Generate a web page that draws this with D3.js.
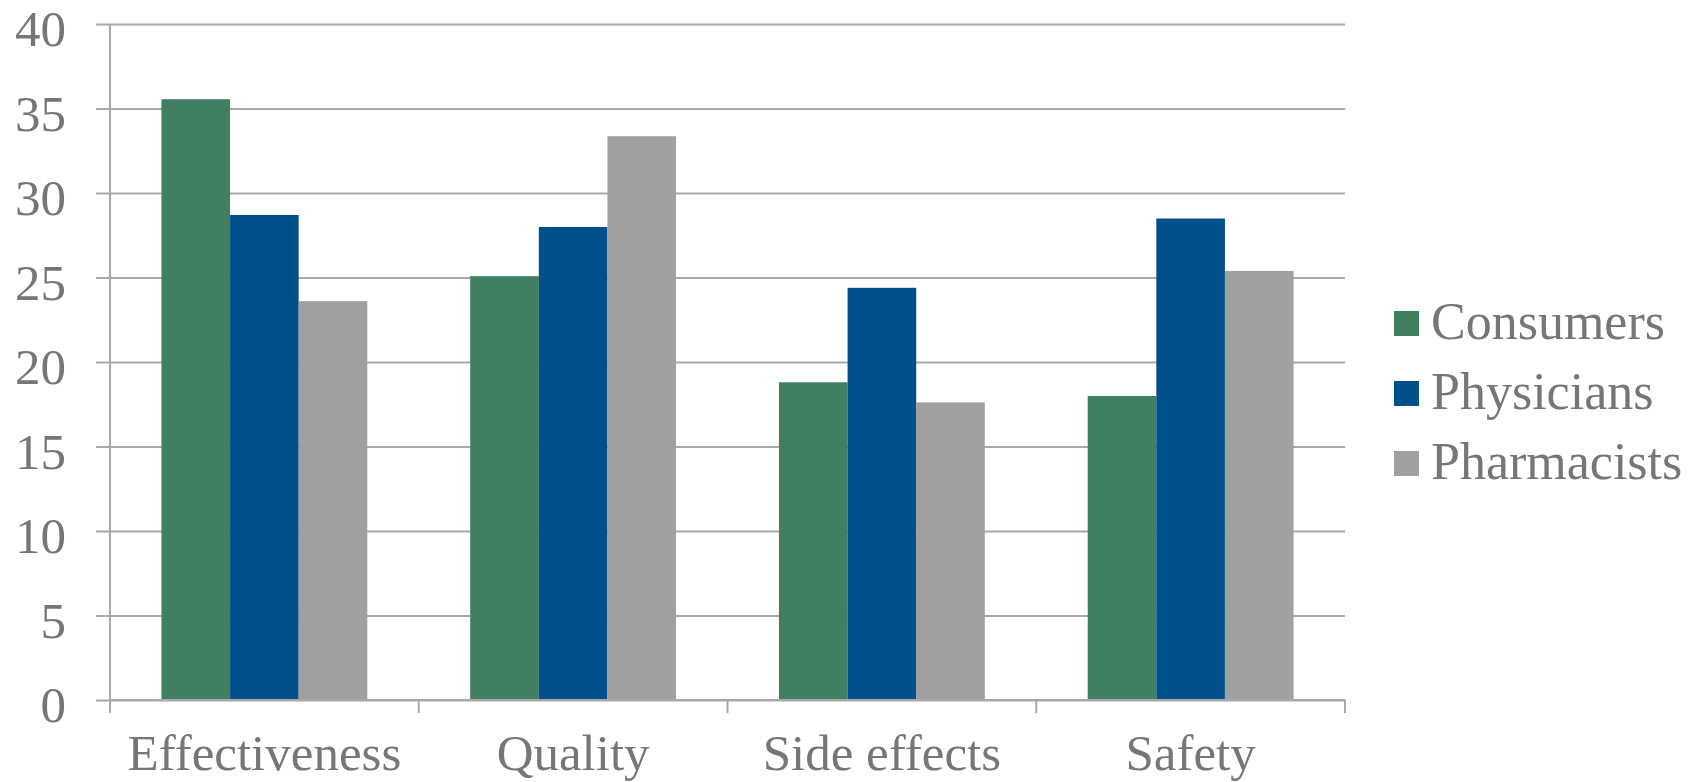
<!DOCTYPE html>
<html>
<head>
<meta charset="utf-8">
<script src="https://cdn.jsdelivr.net/npm/d3@7"></script>
<style>
  html, body { margin: 0; padding: 0; background: #ffffff; }
  svg { display: block; }
  text { font-family: "Liberation Serif", "DejaVu Serif", serif; fill: #767676; }
</style>
</head>
<body>
<svg id="chart" width="1694" height="782"></svg>
<script>
// Reasons cited, by respondent group (percent)
const categories = ["Effectiveness", "Quality", "Side effects", "Safety"];
const seriesNames = ["Consumers", "Physicians", "Pharmacists"];
const consumers   = [35.55, 25.08, 18.80, 17.99];
const physicians  = [28.70, 27.99, 24.39, 28.49];
const pharmacists = [23.60, 33.36, 17.61, 25.39];
const yTicks = [0, 5, 10, 15, 20, 25, 30, 35, 40];
const seriesColors = ["#417f61", "#00508c", "#a0a0a0"];

const seriesValues = [consumers, physicians, pharmacists];

const svg = d3.select("#chart");
const plot = { left: 110, right: 1345, top: 24, bottom: 700 };
const gridColor = "#a8a8a8";
const fontSize = 51;

const x0 = d3.scaleBand().domain(categories).range([plot.left, plot.right]).padding(0);
const bw = x0.bandwidth();
// Clustered bars with a gap of 150% of one bar width between groups
const barW = bw / 4.5;
const x1 = d3.scaleBand().domain(seriesNames)
  .range([barW * 0.75, bw - barW * 0.75]).padding(0);
const y = d3.scaleLinear().domain([0, 40]).range([plot.bottom, plot.top]);

// Horizontal gridlines with short outward ticks on the value axis
const gy = svg.append("g").attr("transform", `translate(${plot.right},0)`);
gy.call(d3.axisLeft(y).tickValues(yTicks).tickFormat("")
  .tickSize(plot.right - plot.left + 14));
gy.select(".domain").remove();
gy.selectAll(".tick line").attr("stroke", gridColor).attr("stroke-width", 2);

// Value labels
svg.append("g").selectAll("text").data(yTicks).join("text")
  .attr("x", 66).attr("y", d => y(d)).attr("dy", "0.44em")
  .attr("text-anchor", "end").style("font-size", fontSize + "px")
  .text(d => d);

// Bars
const groups = svg.append("g").selectAll("g").data(categories).join("g")
  .attr("transform", d => `translate(${x0(d)},0)`);
groups.selectAll("rect")
  .data((c, i) => seriesNames.map((s, j) => ({ s, v: seriesValues[j][i], j })))
  .join("rect")
  .attr("x", d => x1(d.s)).attr("width", x1.bandwidth())
  .attr("y", d => y(d.v)).attr("height", d => y(0) - y(d.v))
  .attr("fill", d => seriesColors[d.j]);

// Vertical axis line
svg.append("line")
  .attr("x1", plot.left).attr("x2", plot.left)
  .attr("y1", y(40)).attr("y2", plot.bottom + 13)
  .attr("stroke", gridColor).attr("stroke-width", 2);

// Category axis: baseline, tick marks between groups, labels
const gx = svg.append("g").attr("transform", `translate(0,${plot.bottom})`);
gx.append("line").attr("x1", plot.left).attr("x2", plot.right)
  .attr("stroke", gridColor).attr("stroke-width", 2);
const boundaries = categories.map(c => x0(c)).concat([plot.right]);
gx.selectAll("line.tk").data(boundaries).join("line").attr("class", "tk")
  .attr("x1", d => d).attr("x2", d => d).attr("y1", 0).attr("y2", 13)
  .attr("stroke", gridColor).attr("stroke-width", 2);
gx.selectAll("text").data(categories).join("text")
  .attr("x", d => x0(d) + bw / 2).attr("y", 70)
  .attr("text-anchor", "middle").style("font-size", fontSize + "px")
  .text(d => d);

// Legend
const legend = svg.append("g").attr("transform", "translate(1394,311)");
const items = legend.selectAll("g").data(seriesNames).join("g")
  .attr("transform", (d, i) => `translate(0,${i * 70})`);
items.append("rect").attr("width", 25).attr("height", 25)
  .attr("fill", (d, i) => seriesColors[i]);
items.append("text").attr("x", 37).attr("y", 28)
  .style("font-size", "52px").text(d => d);
</script>
</body>
</html>
